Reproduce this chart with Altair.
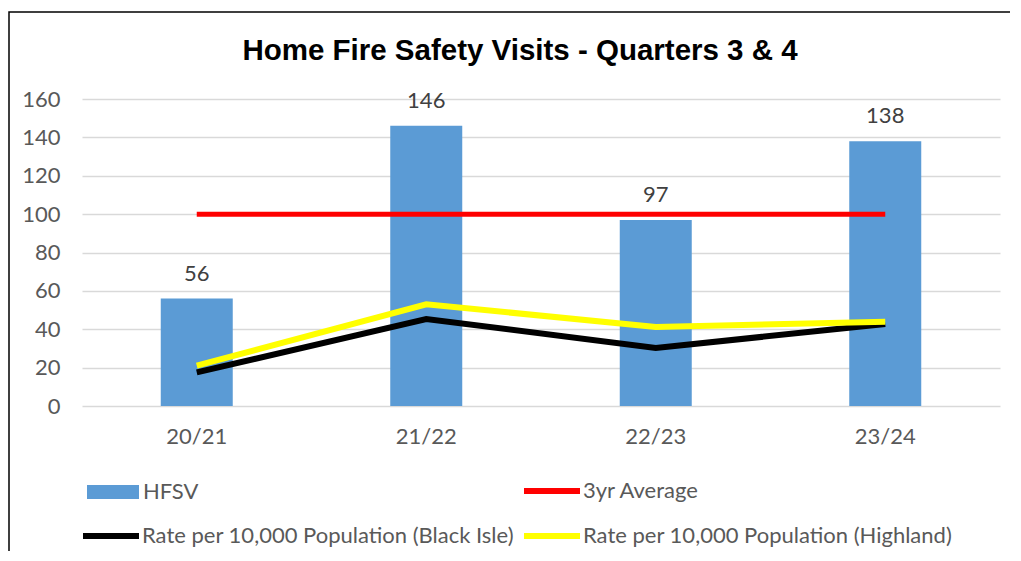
import altair as alt
import pandas as pd

years = ["20/21", "21/22", "22/23", "23/24"]
hfsv = [56, 146, 97, 138]
avg3yr = [100, 100, 100, 100]
rate_black_isle = [17.5, 45.3, 30.3, 42.7]
rate_highland = [21.0, 53.0, 41.2, 43.9]
y_ticks = [0, 20, 40, 60, 80, 100, 120, 140, 160]
title_text = ["Home Fire Safety Visits - Quarters 3 & 4"]

df = pd.DataFrame({
    "year": years,
    "hfsv": hfsv,
    "avg": avg3yr,
    "black": rate_black_isle,
    "highland": rate_highland,
})

FONT = "Lato"
LABEL_SIZE = 22
GREY = "#595959"

x_axis = alt.Axis(title=None, labelAngle=0, labelFont=FONT, labelFontSize=LABEL_SIZE,
                  labelColor=GREY, labelPadding=20, domain=False, ticks=False, grid=False)
y_axis = alt.Axis(title=None, values=y_ticks, labelFont=FONT, labelFontSize=LABEL_SIZE,
                  labelColor=GREY, labelPadding=22, domain=False, ticks=False, labelOverlap=False,
                  gridColor="#d9d9d9", gridWidth=1.5)
y_scale = alt.Scale(domain=[0, 160], nice=False)


def X():
    return alt.X("year:N", sort=years, axis=x_axis)


def Y(field):
    return alt.Y(f"{field}:Q", scale=y_scale, axis=y_axis)


base = alt.Chart(df)


def leg(x, y, stype, size, offset, stroke_w=None):
    kw = dict(orient="none", legendX=x, legendY=y, padding=0, title=None,
              symbolType=stype, symbolSize=size, labelFont=FONT, labelFontSize=LABEL_SIZE,
              labelColor=GREY, labelOffset=offset, labelLimit=600)
    if stroke_w:
        kw["symbolStrokeWidth"] = stroke_w
    return alt.Legend(**kw)


def series(name):
    return base.transform_calculate(s=f"'{name}'")


frame = alt.Chart(pd.DataFrame({"a": [0]})).mark_rect(
    fillOpacity=0, stroke="black", strokeWidth=1.5
).encode(x=alt.value(-73), x2=alt.value(1000), y=alt.value(-87), y2=alt.value(600))

title = alt.Chart(pd.DataFrame({"t": title_text})).mark_text(
    font="Liberation Sans", fontSize=29.5, fontWeight="bold", color="black",
    align="center", baseline="middle"
).encode(x=alt.value(438), y=alt.value(-48), text="t:N")

bars = series("HFSV").mark_bar(size=72).encode(
    x=X(),
    y=Y("hfsv"),
    fill=alt.Fill("s:N", scale=alt.Scale(domain=["HFSV"], range=["#5b9bd5"]),
                  legend=leg(4, 366, "M-1,-0.27H1V0.27H-1Z", 2704, 3)),
)

labels = base.mark_text(baseline="middle", dy=-25, font=FONT, fontSize=LABEL_SIZE, color="#404040").encode(
    x=X(),
    y=Y("hfsv"),
    text="hfsv:Q",
)

n_red = "3yr Average"
red = series(n_red).mark_line(strokeWidth=5).encode(
    x=X(),
    y=Y("avg"),
    stroke=alt.Stroke("s:N", scale=alt.Scale(domain=[n_red], range=["#ff0000"]),
                      legend=leg(439, 361, "stroke", 3136, 0, 6)),
)

n_black = "Rate per 10,000 Population (Black Isle)"
black = series(n_black).mark_line(strokeWidth=6).encode(
    x=X(),
    y=Y("black"),
    stroke=alt.Stroke("s:N", scale=alt.Scale(domain=[n_black], range=["#000000"]),
                      legend=leg(-2, 406, "stroke", 3136, 0, 6)),
)

n_yellow = "Rate per 10,000 Population (Highland)"
yellow = series(n_yellow).mark_line(strokeWidth=6).encode(
    x=X(),
    y=Y("highland"),
    stroke=alt.Stroke("s:N", scale=alt.Scale(domain=[n_yellow], range=["#ffff00"]),
                      legend=leg(439, 406, "stroke", 3136, 0, 6)),
)

chart = alt.layer(frame, title, bars, labels, red, black, yellow).resolve_scale(
    stroke="independent", fill="independent"
).properties(
    width=918,
    height=307,
    autosize=alt.AutoSizeParams(type="none"),
    padding={"left": 74, "top": 91, "right": 10, "bottom": 145},
).configure_view(stroke=None).configure_scale(bandPaddingInner=0, bandPaddingOuter=0)

chart.save("out.html", embed_options={"renderer": "svg", "actions": False})
